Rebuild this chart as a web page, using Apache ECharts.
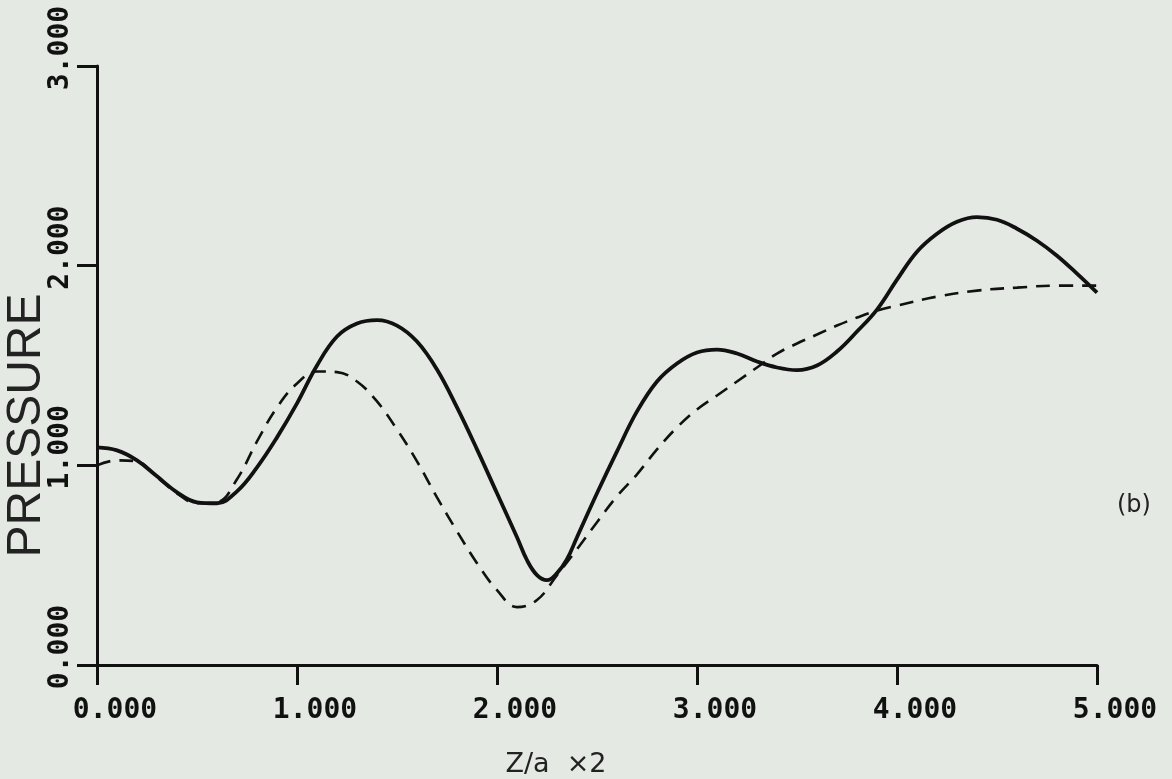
<!DOCTYPE html>
<html>
<head>
<meta charset="utf-8">
<script src="https://cdn.jsdelivr.net/npm/echarts@6/dist/echarts.min.js"></script>
<style>
  html, body { margin: 0; padding: 0; background: #e4e9e3; }
  #chart { width: 1172px; height: 779px; }
</style>
</head>
<body>
<div id="chart"></div>
<script>
// Axis ticks
const xTicks = [0, 1, 2, 3, 4, 5];
const yTicks = [0, 1, 2, 3];

// Solid curve: pressure against Z/a x 2
const solidZ = [0.00, 0.10, 0.20, 0.30, 0.40, 0.50, 0.60, 0.70, 0.80, 0.90, 1.00, 1.10, 1.20, 1.30, 1.40, 1.50, 1.60, 1.70, 1.80, 1.90, 2.00, 2.10, 2.15, 2.20, 2.25, 2.30, 2.35, 2.40, 2.50, 2.60, 2.70, 2.80, 2.90, 3.00, 3.10, 3.20, 3.30, 3.40, 3.50, 3.60, 3.70, 3.80, 3.90, 4.00, 4.10, 4.20, 4.30, 4.40, 4.50, 4.60, 4.70, 4.80, 4.90, 5.00];
const solidP = [1.09, 1.075, 1.025, 0.945, 0.865, 0.815, 0.81, 0.87, 0.99, 1.14, 1.31, 1.50, 1.645, 1.71, 1.727, 1.70, 1.62, 1.48, 1.29, 1.08, 0.86, 0.64, 0.525, 0.45, 0.425, 0.46, 0.53, 0.64, 0.86, 1.07, 1.27, 1.42, 1.51, 1.565, 1.58, 1.56, 1.52, 1.49, 1.477, 1.50, 1.57, 1.67, 1.78, 1.93, 2.07, 2.16, 2.22, 2.243, 2.23, 2.185, 2.125, 2.05, 1.96, 1.865];

// Dashed curve
const dashedZ = [0.00, 0.10, 0.20, 0.30, 0.40, 0.50, 0.60, 0.70, 0.80, 0.90, 1.00, 1.10, 1.20, 1.30, 1.40, 1.50, 1.60, 1.70, 1.80, 1.90, 2.00, 2.10, 2.20, 2.30, 2.40, 2.50, 2.60, 2.70, 2.80, 2.90, 3.00, 3.10, 3.20, 3.30, 3.40, 3.50, 3.60, 3.70, 3.80, 3.90, 4.00, 4.20, 4.40, 4.60, 4.80, 5.00];
const dashedP = [1.00, 1.025, 1.02, 0.94, 0.86, 0.81, 0.815, 0.93, 1.12, 1.29, 1.41, 1.47, 1.467, 1.42, 1.32, 1.18, 1.02, 0.84, 0.67, 0.51, 0.375, 0.29, 0.325, 0.45, 0.58, 0.715, 0.845, 0.955, 1.08, 1.19, 1.28, 1.35, 1.42, 1.49, 1.56, 1.61, 1.655, 1.70, 1.74, 1.775, 1.80, 1.845, 1.875, 1.89, 1.90, 1.90];

const zip = (xs, ys) => xs.map((x, i) => [x, ys[i]]);

const ink = '#111111';
const tickFont = {
  fontFamily: 'DejaVu Sans Mono',
  fontWeight: 'bold',
  fontSize: 28,
  color: ink,
  // start each label just before the tick so the decimal point sits on it
  padding: [0, 0, 0, 36]
};

const chart = echarts.init(document.getElementById('chart'), null, { renderer: 'canvas' });

chart.setOption({
  backgroundColor: '#e4e9e3',
  animation: false,
  grid: { left: 97, right: 75, top: 66, bottom: 114, containLabel: false, outerBoundsMode: 'none' },
  xAxis: {
    type: 'value',
    min: xTicks[0],
    max: xTicks[xTicks.length - 1],
    interval: 1,
    name: 'Z/a  ×2',
    nameLocation: 'middle',
    nameGap: 86,
    nameMoveOverlap: false,
    nameTextStyle: {
      fontFamily: 'DejaVu Sans',
      fontSize: 27,
      color: '#222',
      padding: [0, 82, 0, 0]
    },
    axisLine: { show: true, onZero: false, lineStyle: { color: ink, width: 3 } },
    axisTick: { show: true, inside: false, length: 20, lineStyle: { color: ink, width: 3 } },
    axisLabel: Object.assign({ margin: 32, formatter: v => v.toFixed(3) }, tickFont),
    splitLine: { show: false }
  },
  yAxis: {
    type: 'value',
    min: yTicks[0],
    max: yTicks[yTicks.length - 1],
    interval: 1,
    name: 'PRESSURE',
    nameLocation: 'middle',
    nameRotate: 90,
    nameGap: 46,
    nameMoveOverlap: false,
    nameTextStyle: {
      fontFamily: 'Liberation Sans',
      fontSize: 48,
      color: '#222',
      padding: [0, 120, 0, 0]
    },
    axisLine: { show: true, onZero: false, lineStyle: { color: ink, width: 3 } },
    axisTick: { show: true, inside: false, length: 20, lineStyle: { color: ink, width: 3 } },
    axisLabel: Object.assign({ margin: 22, rotate: 90, formatter: v => v.toFixed(3) }, tickFont),
    splitLine: { show: false }
  },
  graphic: [{
    type: 'text',
    left: 1117,
    top: 494,
    style: { text: '(b)', font: '24px "DejaVu Sans"', fill: '#222' }
  }],
  series: [
    {
      name: 'solid',
      type: 'line',
      data: zip(solidZ, solidP),
      smooth: 0.4,
      showSymbol: false,
      lineStyle: { color: ink, width: 3.8 }
    },
    {
      name: 'dashed',
      type: 'line',
      data: zip(dashedZ, dashedP),
      smooth: 0.4,
      showSymbol: false,
      lineStyle: { color: ink, width: 2.6, type: [14, 9] }
    }
  ]
});
</script>
</body>
</html>
